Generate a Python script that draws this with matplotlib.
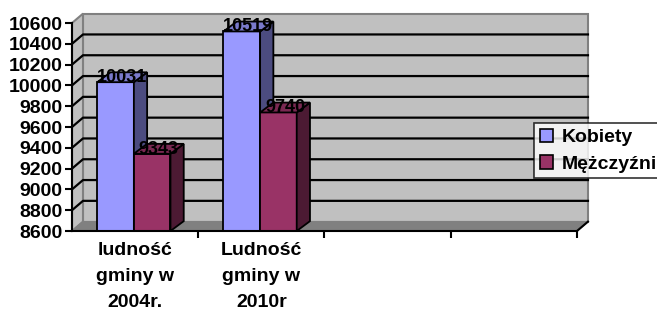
import numpy as np
import matplotlib
matplotlib.use('Agg')
import matplotlib.pyplot as plt
from matplotlib.patches import Polygon, Rectangle, Patch

plt.rcParams['font.family'] = ['Liberation Sans', 'DejaVu Sans']

# =====================================
# Data
# =====================================
categories = ['ludność\ngminy w\n2004r.', 'Ludność\ngminy w\n2010r', '', '']
series_names = ['Kobiety', 'Mężczyźni']
kobiety = [10031, 10519]
mezczyzni = [9343, 9740]
y_ticks = list(range(8600, 10601, 200))

front_colors = ['#9999FF', '#993366']
top_colors = ['#7A7ACC', '#7A2952']
side_colors = ['#4C4C80', '#4C1A33']

y_min, y_max = 8600, 10600
n_cat = len(categories)

# depth offsets (data units) for the fake 3D look
wall_dx, wall_dy = 0.087, 90
bar_dx, bar_dy = 0.105, 95
bar_w = 0.29

# =====================================
# Figure
# =====================================
fig = plt.figure(figsize=(6.57, 3.11), dpi=100)
ax = fig.add_axes([0.1096, 0.2572, 0.7686, 0.6688])
ax.set_xlim(0, n_cat)
ax.set_ylim(y_min, y_max)
ax.patch.set_visible(False)

# back wall
ax.add_patch(Polygon([(wall_dx, y_min + wall_dy), (n_cat + wall_dx, y_min + wall_dy),
                      (n_cat + wall_dx, y_max + wall_dy), (wall_dx, y_max + wall_dy)],
                     closed=True, facecolor='#C0C0C0', edgecolor='#808080',
                     lw=1.5, zorder=0.5, clip_on=False))
# left wall
ax.add_patch(Polygon([(0, y_min), (wall_dx, y_min + wall_dy),
                      (wall_dx, y_max + wall_dy), (0, y_max)],
                     closed=True, facecolor='#C0C0C0', edgecolor='#808080',
                     lw=1.5, zorder=0.5, clip_on=False))

# gridlines (side wall + back wall)
for v in y_ticks[1:-1]:
    ax.plot([0, wall_dx, n_cat + wall_dx], [v, v + wall_dy, v + wall_dy],
            color='black', lw=1.6, zorder=0.8, clip_on=False)

# floor
ax.add_patch(Polygon([(0, y_min), (n_cat, y_min),
                      (n_cat + wall_dx, y_min + wall_dy), (wall_dx, y_min + wall_dy)],
                     closed=True, facecolor='#808080', edgecolor='#808080',
                     lw=1, zorder=0.9, clip_on=False))
ax.plot([n_cat, n_cat + wall_dx], [y_min, y_min + wall_dy],
        color='black', lw=1.5, zorder=0.95, clip_on=False)

# bars
def draw_bar(left, value, k):
    kw = dict(edgecolor='black', lw=1.3, zorder=2, clip_on=False, joinstyle='miter')
    ax.add_patch(Rectangle((left, y_min), bar_w, value - y_min,
                           facecolor=front_colors[k], **kw))
    ax.add_patch(Polygon([(left + bar_w, y_min), (left + bar_w + bar_dx, y_min + bar_dy),
                          (left + bar_w + bar_dx, value + bar_dy), (left + bar_w, value)],
                         closed=True, facecolor=side_colors[k], **kw))
    ax.add_patch(Polygon([(left, value), (left + bar_dx, value + bar_dy),
                          (left + bar_w + bar_dx, value + bar_dy), (left + bar_w, value)],
                         closed=True, facecolor=top_colors[k], **kw))
    ax.text(left + (bar_w + bar_dx) / 2, value, str(value),
            ha='center', va='baseline', fontsize=13, fontweight='bold',
            color='black', zorder=3)

for i in range(len(kobiety)):
    draw_bar(i + 0.2, kobiety[i], 0)
    draw_bar(i + 0.2 + bar_w, mezczyzni[i], 1)

# axes
for s in ['top', 'right']:
    ax.spines[s].set_visible(False)
for s in ['left', 'bottom']:
    ax.spines[s].set_color('black')
    ax.spines[s].set_linewidth(1.5)
    ax.spines[s].set_zorder(2.5)

ax.set_yticks(y_ticks)
ax.set_yticklabels([str(v) for v in y_ticks], fontsize=14, fontweight='bold')
ax.tick_params(axis='y', direction='out', length=5, width=1.5, pad=2, colors='black')

ax.set_xticks(np.arange(1, n_cat + 1))
ax.set_xticklabels([])
ax.tick_params(axis='x', which='major', direction='out', length=5, width=1.5)
ax.set_xticks(np.arange(n_cat) + 0.5, minor=True)
ax.set_xticklabels(categories, minor=True, fontsize=14, fontweight='bold',
                   linespacing=1.68)
ax.tick_params(axis='x', which='minor', length=0, pad=8)

# legend
handles = [Patch(facecolor=c, edgecolor='black', lw=1.2) for c in front_colors]
leg = fig.legend(handles, series_names, loc='upper left',
                 bbox_to_anchor=(0.8128, 0.605), frameon=True, fancybox=False,
                 prop={'size': 14, 'weight': 'bold'}, handlelength=0.7,
                 handleheight=0.7, handletextpad=0.45, borderpad=0.3,
                 labelspacing=0.45, borderaxespad=0)
leg.get_frame().set_edgecolor('black')
leg.get_frame().set_linewidth(1.2)

plt.savefig('out.png', dpi=100)
